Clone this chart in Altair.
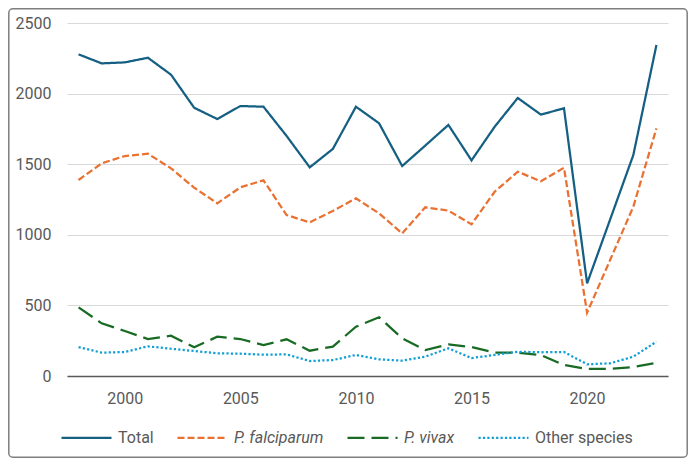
import altair as alt
import pandas as pd

years = list(range(1998, 2024))
total = [2278, 2214, 2221, 2254, 2134, 1900, 1820, 1912, 1907, 1700, 1478, 1608, 1907,
         1790, 1487, 1632, 1778, 1527, 1765, 1969, 1851, 1896, 656, 1110, 1565, 2344]
falciparum = [1388, 1506, 1558, 1574, 1471, 1334, 1223, 1336, 1386, 1140, 1088, 1169, 1258,
              1152, 1010, 1195, 1171, 1074, 1305, 1447, 1379, 1475, 448, 823, 1199, 1754]
vivax = [486, 373, 319, 262, 285, 203, 278, 262, 219, 260, 179, 208, 349,
         416, 267, 184, 224, 205, 165, 165, 149, 78, 50, 50, 64, 94]
other = [205, 165, 170, 210, 193, 177, 161, 158, 151, 153, 106, 113, 149,
         118, 109, 137, 196, 127, 149, 172, 168, 170, 83, 90, 137, 243]

series_names = ["Total", "P. falciparum", "P. vivax", "Other species"]
series_colors = ["#156082", "#E97132", "#196B24", "#0F9ED5"]
series_dashes = [[1, 0], [7, 3], [17, 7], [2.2, 2.2]]
x_ticks = [2000, 2005, 2010, 2015, 2020]
y_ticks = [0, 500, 1000, 1500, 2000, 2500]

rows = []
for name, vals in zip(series_names, [total, falciparum, vivax, other]):
    for y, v in zip(years, vals):
        rows.append({"year": y, "value": v, "series": name})
df = pd.DataFrame(rows)

font = "Roboto"
grey = "#595959"

lines = alt.Chart(df).mark_line(strokeWidth=2.25).encode(
    x=alt.X("year:Q",
            scale=alt.Scale(domain=[1997.5, 2023.5], nice=False, zero=False),
            axis=alt.Axis(values=x_ticks, format="d", title=None, ticks=False, grid=False,
                          domainColor=grey, domainWidth=1.5, labelColor=grey,
                          labelFontSize=16, labelFont=font, labelPadding=14)),
    y=alt.Y("value:Q",
            scale=alt.Scale(domain=[0, 2500], nice=False),
            axis=alt.Axis(values=y_ticks, format="d", title=None, ticks=False, domain=False,
                          gridColor="#d9d9d9", gridWidth=1, labelColor=grey,
                          labelFontSize=16, labelFont=font, labelPadding=16)),
    color=alt.Color("series:N",
                    scale=alt.Scale(domain=series_names, range=series_colors),
                    legend=alt.Legend(
                        title=None, orient="none", direction="horizontal",
                        legendX=-7, legendY=388,
                        symbolType="stroke", symbolSize=2500, symbolStrokeWidth=2.25,
                        labelFontSize=16, labelFont=font, labelColor=grey,
                        labelOffset=5, columnPadding=19,
                        labelFontStyle={"expr": "(datum.label == 'P. falciparum' || datum.label == 'P. vivax') ? 'italic' : 'normal'"})),
    strokeDash=alt.StrokeDash("series:N",
                              scale=alt.Scale(domain=series_names, range=series_dashes),
                              legend=None),
    order=alt.Order("series:N"),
)

border = alt.Chart(alt.Data(values=[{}])).mark_rect(
    fill=None, stroke="#7f7f7f", strokeWidth=1.5, cornerRadius=4
).encode(
    x=alt.value(-58.2), x2=alt.value(620.2), y=alt.value(-14.2), y2=alt.value(434.2)
)

chart = alt.layer(lines, border).properties(
    width=601, height=353,
    autosize=alt.AutoSizeParams(type="none"),
    padding={"left": 59, "top": 15, "right": 21, "bottom": 82},
).configure_view(stroke=None)

chart.save("out.html", embed_options={"renderer": "svg", "actions": False})
